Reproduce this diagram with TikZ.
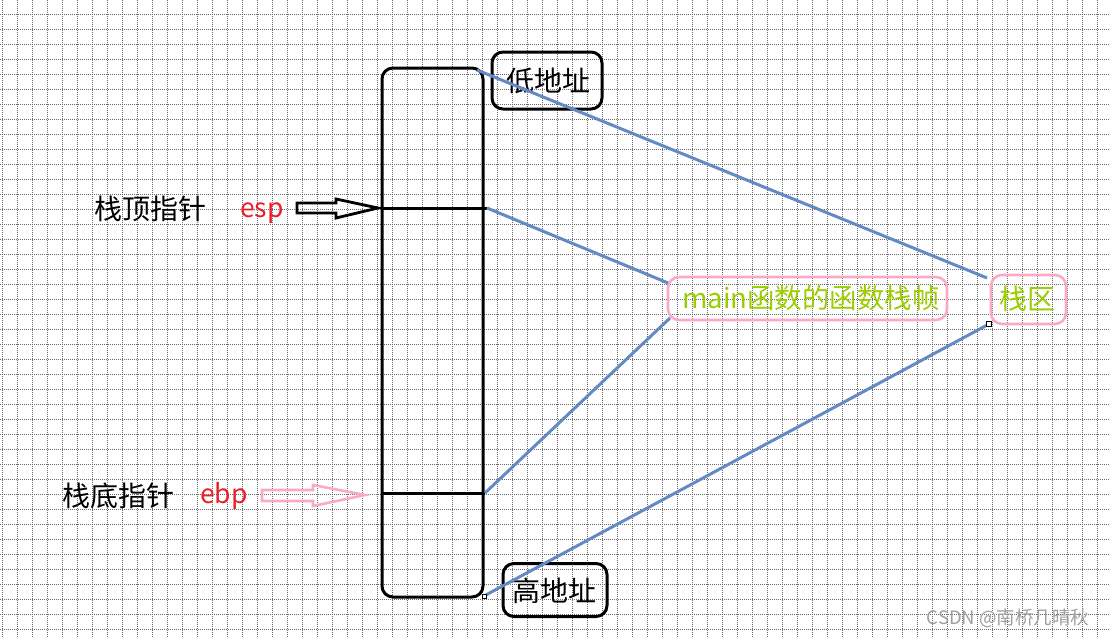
\documentclass[tikz,border=0pt]{standalone}
\usepackage{fontspec}
\setmainfont{Noto Sans CJK SC}
\definecolor{gridc}{RGB}{105,105,105}
\definecolor{bluec}{RGB}{100,138,195}
\definecolor{pinkc}{RGB}{250,170,200}
\definecolor{redc}{RGB}{235,30,40}
\definecolor{greenc}{RGB}{155,205,0}
\begin{document}
\begin{tikzpicture}[x=1pt,y=-1pt,
  blk/.style={draw=black,line width=3pt,rounded corners=11pt,inner sep=0pt},
  pk/.style={draw=pinkc,line width=2.6pt,rounded corners=11pt,inner sep=0pt},
  conn/.style={draw=bluec,line width=3pt},
  txt/.style={font=\fontsize{28}{32}\selectfont,inner sep=0pt,anchor=base west},
  ltn/.style={font=\fontsize{26.5}{30}\selectfont,inner sep=0pt,anchor=base west},
  sq/.style={draw=black,fill=white,line width=0.6pt,minimum size=5pt,inner sep=0pt},
  gridline/.style={gridc,dash pattern=on 1pt off 1pt,line width=0.8pt}]
\useasboundingbox (0,0) rectangle (1109,637);
\fill[white] (0,0) rectangle (1109,637);
\foreach \gx in {0,...,73} \draw[gridline] (2+15*\gx,0)--(2+15*\gx,637);
\foreach \gy in {0,...,41} \draw[gridline] (0,14+15*\gy)--(1109,14+15*\gy);
% stack
\node[blk,minimum width=101pt,minimum height=529pt] (stack) at (432.5,332.5) {};
\coordinate (espL) at (382,208);
\coordinate (espR) at (487,208);
\coordinate (ebpL) at (382,493);
\coordinate (ebpR) at (485,493);
\draw[black,line width=3pt] (espL)--(espR);
\draw[black,line width=3pt] (ebpL)--(ebpR);
% address boxes
\node[blk,minimum width=110pt,minimum height=57pt] (low) at (547,80.5) {};
\node[txt] (lowt) at (506,91) {低地址};
\node[blk,minimum width=104pt,minimum height=53pt] (high) at (555,590) {};
\node[txt] (hight) at (512,601) {高地址};
% pink boxes
\node[pk,minimum width=279pt,minimum height=43pt] (frame) at (807.5,298.5) {};
\node[txt,text=greenc,font=\fontsize{27.5}{32}\selectfont] (framet) at (682,308) {main函数的函数栈帧};
\node[pk,minimum width=75pt,minimum height=49pt] (qu) at (1028.5,299.5) {};
\node[txt,text=greenc] (qut) at (999,309) {栈区};
% labels
\node[txt] (topl) at (94,219) {栈顶指针};
\node[ltn,text=redc] (esp) at (240,217) {esp};
\node[txt] (botl) at (62,506) {栈底指针};
\node[ltn,text=redc] (ebp) at (200,503) {ebp};
% hollow arrows
\coordinate (espTip) at (378,208);
\draw[black,line width=2.8pt,line join=miter] (297,203)--(336,203)--(336,199)--(espTip)--(336,218)--(336,213)--(297,213)--cycle;
\coordinate (ebpTip) at (365,495);
\draw[pinkc,line width=2.6pt,line join=miter] (262,490)--(313,490)--(313,485)--(ebpTip)--(313,506)--(313,501)--(262,501)--cycle;
% connectors
\coordinate (s1) at (477,70);
\coordinate (q1) at (987,278);
\coordinate (f1) at (668,283);
\coordinate (f2) at (670,318);
\coordinate (s4) at (484,596);
\coordinate (q2) at (989,324);
\draw[conn] (s1)--(q1);
\draw[conn] (espR)--(f1);
\draw[conn] (ebpR)--(f2);
\draw[conn] (s4)--(q2);
\node[sq] at (q2) {};
\node[sq,minimum size=4pt] at (s4) {};
% watermark
\node[font=\fontsize{18.5}{20}\selectfont,text=gray!75,inner sep=0pt] (wm) at (1008,618) {CSDN @南桥几晴秋};
\end{tikzpicture}
\end{document}
